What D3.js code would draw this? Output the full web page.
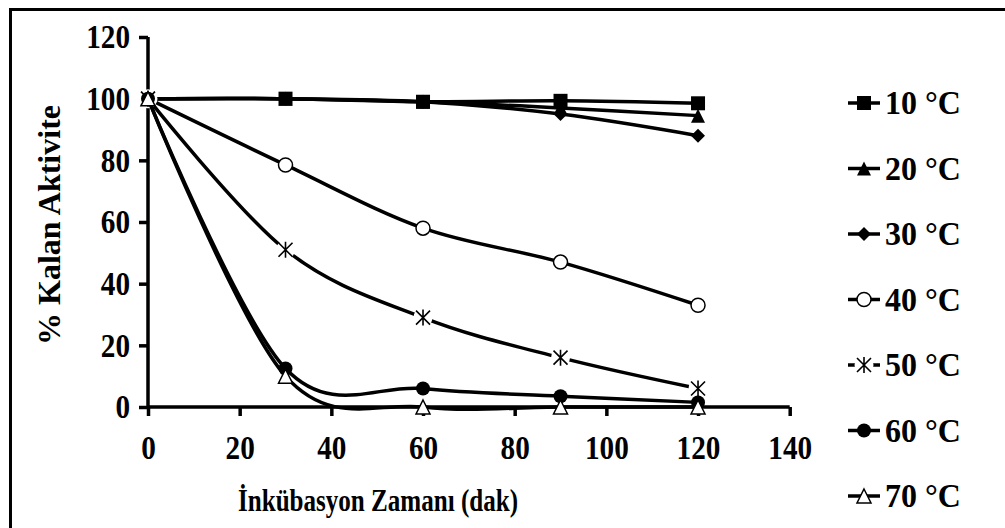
<!DOCTYPE html>
<html>
<head>
<meta charset="utf-8">
<script src="https://cdn.jsdelivr.net/npm/d3@7"></script>
<style>
  html, body { margin: 0; padding: 0; background: #fff; }
  svg { display: block; }
  text { font-family: "Liberation Serif", "Times New Roman", serif; font-weight: bold; fill: #000; }
</style>
</head>
<body>
<svg id="chart" width="1005" height="528"></svg>
<script>
// Incubation times (min)
const times = [0, 30, 60, 90, 120];

// Remaining activity (%) per incubation temperature
const temps = ["10 °C", "20 °C", "30 °C", "40 °C", "50 °C", "60 °C", "70 °C"];
const act10 = [100, 100, 99, 99.3, 98.5];
const act20 = [100, 100, 99, 97, 94.5];
const act30 = [100, 100, 99, 95, 88];
const act40 = [100, 78.5, 58, 47, 33];
const act50 = [100, 51, 29, 16, 6];
const act60 = [100, 12.5, 6, 3.5, 1.5];
const act70 = [100, 10, 0, 0, 0];
const markers = ["square", "triangle", "diamond", "circleOpen", "asterisk", "circle", "triangleOpen"];

const xTicks = [0, 20, 40, 60, 80, 100, 120, 140];
const yTicks = [0, 20, 40, 60, 80, 100, 120];

const seriesData = [act10, act20, act30, act40, act50, act60, act70].map((vals, i) => ({
  name: temps[i],
  marker: markers[i],
  points: times.map((t, j) => ({ t, v: vals[j] }))
}));

const svg = d3.select("#chart");
const FONT = "34px";
const SQUEEZE = 0.86;   // narrow, tall lettering

// move a text's x/y into a transform so it can be narrowed around its anchor
function narrow(sel, k) {
  sel.each(function () {
    const t = d3.select(this);
    const tx = +t.attr("x") || 0, ty = +t.attr("y") || 0;
    t.attr("x", 0).attr("y", 0)
      .attr("transform", `translate(${tx},${ty}) scale(${k},1)`);
  });
}

// outer frame (right and bottom edges fall outside the view)
svg.append("rect")
  .attr("x", 10.5).attr("y", 9.5)
  .attr("width", 1010).attr("height", 530)
  .attr("fill", "none").attr("stroke", "#000").attr("stroke-width", 3);

const x = d3.scaleLinear().domain([0, 140]).range([148, 789.7]);
const y = d3.scaleLinear().domain([0, 120]).range([407, 37]);

// y axis
const yAxis = svg.append("g")
  .attr("transform", `translate(${x(0)},0)`)
  .call(d3.axisLeft(y).tickValues(yTicks).tickSize(9).tickPadding(9).tickFormat(d3.format("d")));
// x axis
const xAxis = svg.append("g")
  .attr("transform", `translate(0,${y(0)})`)
  .call(d3.axisBottom(x).tickValues(xTicks).tickSize(9).tickPadding(19).tickFormat(d3.format("d")));

[yAxis, xAxis].forEach(g => {
  g.select(".domain").attr("stroke", "#000").attr("stroke-width", 3.5);
  g.selectAll(".tick line").attr("stroke", "#000").attr("stroke-width", 3.5);
  g.selectAll(".tick text")
    .style("font-size", FONT)
    .style("font-family", "Liberation Serif, serif")
    .style("font-weight", "bold")
    .call(narrow, SQUEEZE);
});
xAxis.select(".domain").attr("d", `M${x(0)},0H${x(140)}`);
yAxis.select(".domain").attr("d", `M0,${y(120)}V${y(0)}`);

// axis titles
svg.append("text")
  .attr("transform", `translate(60,225) rotate(-90)`)
  .attr("text-anchor", "middle")
  .style("font-size", "32px")
  .text("% Kalan Aktivite");

svg.append("text")
  .attr("x", 238).attr("y", 511)
  .attr("textLength", 280)
  .attr("lengthAdjust", "spacingAndGlyphs")
  .style("font-size", "32px")
  .text("İnkübasyon Zamanı (dak)");

// smoothed lines
const line = d3.line()
  .x(d => x(d.t))
  .y(d => y(d.v))
  .curve(d3.curveCardinal.tension(0));

function drawMarker(g, type) {
  const s = 7;
  switch (type) {
    case "square":
      g.append("rect").attr("x", -s).attr("y", -s).attr("width", 2 * s).attr("height", 2 * s).attr("fill", "#000");
      break;
    case "triangle":
      g.append("path").attr("d", `M0,${-s}L${s},${s}L${-s},${s}Z`).attr("fill", "#000");
      break;
    case "diamond":
      g.append("path").attr("d", `M0,${-s}L${s},0L0,${s}L${-s},0Z`).attr("fill", "#000");
      break;
    case "circleOpen":
      g.append("circle").attr("r", s).attr("fill", "#fff").attr("stroke", "#000").attr("stroke-width", 1.5);
      break;
    case "circle":
      g.append("circle").attr("r", s).attr("fill", "#000");
      break;
    case "triangleOpen":
      g.append("path").attr("d", `M0,${-s}L${s},${s}L${-s},${s}Z`).attr("fill", "#fff").attr("stroke", "#000").attr("stroke-width", 1.5);
      break;
    case "asterisk":
      g.append("circle").attr("r", 9.5).attr("fill", "#fff");
      g.append("path")
        .attr("d", `M${-s},${-s}L${s},${s}M${-s},${s}L${s},${-s}M0,${-s - 1}L0,${s + 1}`)
        .attr("stroke", "#000").attr("stroke-width", 1.6).attr("fill", "none");
      break;
  }
}

seriesData.forEach(s => {
  const g = svg.append("g");
  g.append("path")
    .attr("d", line(s.points))
    .attr("fill", "none")
    .attr("stroke", "#000")
    .attr("stroke-width", 3.5)
    .attr("stroke-linejoin", "round");
  g.selectAll("g.pt").data(s.points).join("g")
    .attr("class", "pt")
    .attr("transform", d => `translate(${x(d.t)},${y(d.v)})`)
    .each(function () { drawMarker(d3.select(this), s.marker); });
});

// legend
const legendY = d3.scalePoint().domain(temps).range([103, 496]);
const leg = svg.append("g");
seriesData.forEach(s => {
  const cy = legendY(s.name);
  const g = leg.append("g").attr("transform", `translate(0,${cy})`);
  g.append("line").attr("x1", 848).attr("x2", 880).attr("y1", 0).attr("y2", 0)
    .attr("stroke", "#000").attr("stroke-width", 3.5);
  const m = g.append("g").attr("transform", "translate(864,0)");
  drawMarker(m, s.marker);
  g.append("text").attr("x", 885).attr("y", 11).style("font-size", FONT).text(s.name).call(narrow, 0.94);
});
</script>
</body>
</html>
